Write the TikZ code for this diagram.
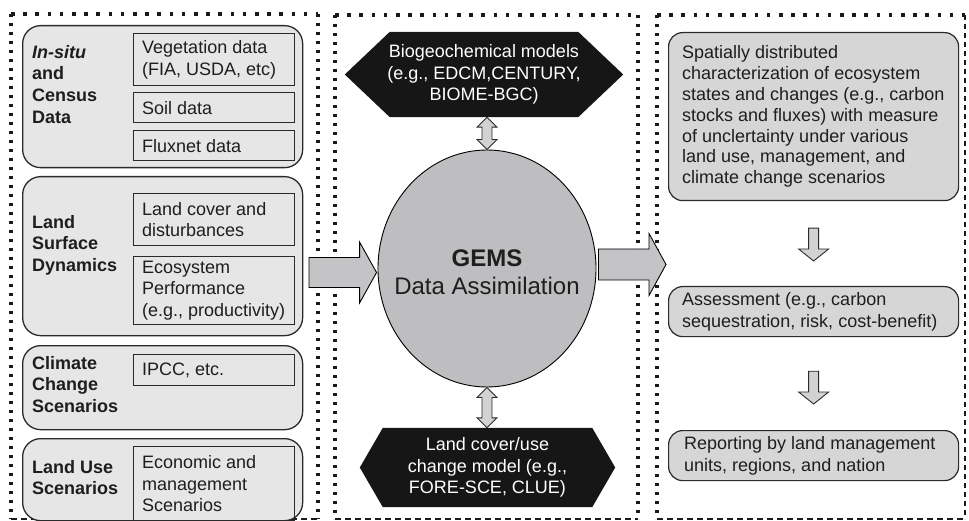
\documentclass[tikz,border=0pt]{standalone}
\usepackage{fontspec}
\setmainfont{Liberation Sans}
\usetikzlibrary{shapes.geometric,calc,backgrounds}
\definecolor{lbox}{HTML}{E6E6E6}
\definecolor{rbox}{HTML}{D6D6D6}
\definecolor{circ}{HTML}{BEBEC1}
\definecolor{arr}{HTML}{C4C4C6}
\definecolor{arrfill}{HTML}{D2D2D2}
\definecolor{edge}{HTML}{2A2A2A}
\definecolor{dotc}{HTML}{1A1A1A}
\definecolor{txtc}{HTML}{1E1E1E}
\definecolor{hexc}{HTML}{161616}
\newcommand\drawbox[6]{\node[#1, anchor=north west, minimum width={#5-#3}, minimum height={#6-#4}] (#2) at (#3,#4) {};}
\newcommand\harrow[6]{\path[#6] let \p1=(#1), \p2=(#2) in
 (\x1,\y2+#3) -- (\x2-#5,\y2+#3) -- (\x2-#5,\y2+#4) -- (\x2,\y2) -- (\x2-#5,\y2-#4) -- (\x2-#5,\y2-#3) -- (\x1,\y2-#3) -- cycle;}
\newcommand\vdarrow[2]{\path[hollow] let \p1=(#1), \p2=(#2) in
 (\x1,\y1) -- (\x1+10pt,\y1-10pt) -- (\x1+5pt,\y1-10pt) -- (\x1+5pt,\y2+10pt) -- (\x1+10pt,\y2+10pt) -- (\x1,\y2) -- (\x1-10pt,\y2+10pt) -- (\x1-5pt,\y2+10pt) -- (\x1-5pt,\y1-10pt) -- (\x1-10pt,\y1-10pt) -- cycle;}
\newcommand\vsarrow[2]{\path[hollow] let \p1=(#1), \p2=(#2) in
 (\x1-5pt,\y1) -- (\x1+5pt,\y1) -- (\x1+5pt,\y2+12pt) -- (\x1+15pt,\y2+12pt) -- (\x1,\y2) -- (\x1-15pt,\y2+12pt) -- (\x1-5pt,\y2+12pt) -- cycle;}
\begin{document}
\begin{tikzpicture}[x=1pt,y=-1pt,
  txt/.style={font=\fontsize{18}{21.5}\selectfont, text=txtc, inner sep=0pt, align=left},
  grp/.style={text=txtc, font=\fontsize{18}{21.7}\selectfont\bfseries, inner sep=0pt, align=left, anchor=north west},
  group/.style={rectangle, draw=edge, line width=1.3pt, fill=lbox, rounded corners=18pt, inner sep=0pt},
  inbox/.style={rectangle, draw=edge, line width=1.2pt, inner sep=0pt},
  rbx/.style={rectangle, draw=edge, line width=1.2pt, fill=rbox, rounded corners=14pt, inner sep=0pt},
  hollow/.style={fill=arrfill, draw=edge, line width=0.9pt},
  bigarr/.style={fill=arr, draw=black, line width=0.9pt},
  hdots/.style={draw=dotc, line width=3.6pt, dash pattern=on 3.6pt off 8.6pt},
  vdots/.style={draw=dotc, line width=3.6pt, dash pattern=on 3.4pt off 5.6pt},
  bdash/.style={draw=dotc, line width=2.4pt, dash pattern=on 6pt off 4pt},
  rdash/.style={draw=dotc, line width=1.6pt, dash pattern=on 5pt off 4pt}]
\useasboundingbox (0,0) rectangle (969,521);
% panels
\draw[hdots] (11,14) -- (318,14);
\draw[vdots] (11,14) -- (11,519);
\draw[vdots] (318,14) -- (318,519);
\draw[bdash] (11,519) -- (318,519);
\draw[hdots] (335,15) -- (638,15);
\draw[vdots] (335,15) -- (335,519);
\draw[vdots] (638,15) -- (638,519);
\draw[bdash] (335,519) -- (638,519);
\draw[hdots] (657,15) -- (965,15);
\draw[vdots] (657,15) -- (657,519);
\draw[rdash] (965,15) -- (965,519);
\draw[bdash] (657,519) -- (965,519);
% left groups
\drawbox{group}{g1}{22}{25}{302}{167}
\drawbox{group}{g2}{22}{176}{302}{335}
\drawbox{group}{g3}{22}{345}{302}{429}
\drawbox{group}{g4}{22}{438}{302}{520}
\node[grp] (l1) at (32,45) {\textit{In-situ}\\and\\Census\\Data};
\node[grp] (l2) at (32,215) {Land\\Surface\\Dynamics};
\node[grp] (l3) at (32,356) {Climate\\Change\\Scenarios};
\node[grp] (l4) at (32,460) {Land Use\\Scenarios};
\drawbox{inbox}{veg}{133}{33}{294}{85}
\drawbox{inbox}{soil}{133}{92}{294}{122}
\drawbox{inbox}{flux}{133}{130}{294}{160}
\drawbox{inbox}{lcd}{133}{193}{294}{245}
\drawbox{inbox}{eco}{133}{256}{294}{324}
\drawbox{inbox}{ipcc}{133}{354}{294}{385}
\drawbox{inbox}{econ}{133}{446}{294}{520}
\node[txt, anchor=west] (tveg) at ($(veg.west)+(9,0)$) {Vegetation data\\(FIA, USDA, etc)};
\node[txt, anchor=west] (tsoil) at ($(soil.west)+(9,0)$) {Soil data};
\node[txt, anchor=west] (tflux) at ($(flux.west)+(9,0)$) {Fluxnet data};
\node[txt, anchor=west] (tlcd) at ($(lcd.west)+(9,0)$) {Land cover and\\disturbances};
\node[txt, anchor=west] (teco) at ($(eco.west)+(9,0)$) {Ecosystem\\Performance\\(e.g., productivity)};
\node[txt, anchor=west] (tipcc) at ($(ipcc.west)+(9,0)$) {IPCC, etc.};
\node[txt, anchor=west] (tecon) at ($(econ.west)+(9,0)$) {Economic and\\management\\Scenarios};
% middle
\node[txt, text=white, align=center, minimum width=278, minimum height=85] (bgc) at (484,74.5) {Biogeochemical models\\(e.g., EDCM,CENTURY,\\BIOME-BGC)};
\node[txt, text=white, align=center, minimum width=255, minimum height=79] (lcu) at (487.5,467.5) {Land cover/use\\change model (e.g.,\\FORE-SCE, CLUE)};
\begin{scope}[on background layer]
\fill[hexc] (bgc.west) -- ([xshift=45pt]bgc.north west) -- ([xshift=-45pt]bgc.north east) -- (bgc.east) -- ([xshift=-45pt]bgc.south east) -- ([xshift=45pt]bgc.south west) -- cycle;
\fill[hexc] (lcu.west) -- ([xshift=23pt]lcu.north west) -- ([xshift=-23pt]lcu.north east) -- (lcu.east) -- ([xshift=-23pt]lcu.south east) -- ([xshift=23pt]lcu.south west) -- cycle;
\end{scope}
\node[ellipse, draw=black, line width=0.9pt, fill=circ, minimum width=218, minimum height=237, inner sep=0pt] (gems) at (487,268.5) {};
\node[txt, align=center, font=\fontsize{24}{28}\selectfont] (gemst) at (487,272) {\textbf{GEMS}\\Data Assimilation};
\vdarrow{gems.north |- bgc.south}{gems.north}
\vdarrow{gems.south}{gems.south |- lcu.north}
% right
\drawbox{rbx}{r1}{668}{32}{958}{200}
\drawbox{rbx}{r2}{668}{286}{958}{336}
\drawbox{rbx}{r3}{668}{430}{958}{480}
\node[txt, anchor=west, font=\fontsize{18}{20.8}\selectfont] (tr1) at ($(r1.west)+(14,0)$) {Spatially distributed\\characterization of ecosystem\\states and changes (e.g., carbon\\stocks and fluxes) with measure\\of unclertainty under various\\land use, management, and\\climate change scenarios};
\node[txt, anchor=west] (tr2) at ($(r2.west)+(14,0)$) {Assessment (e.g., carbon\\sequestration, risk, cost-benefit)};
\node[txt, anchor=west] (tr3) at ($(r3.west)+(16,0)$) {Reporting by land management\\units, regions, and nation};
\vsarrow{$(r1.south)+(0,27)$}{$(r2.north)+(0,-25)$}
\vsarrow{$(r2.south)+(0,34)$}{$(r3.north)+(0,-26)$}
% big arrows
\coordinate (inL) at (309,272.5);
\coordinate (outR) at (666,264.5);
\harrow{inL}{$(gems.west)+(-1,4)$}{15pt}{30.5pt}{17pt}{bigarr}
\harrow{$(gems.east)+(2,-4)$}{outR}{15.5pt}{31pt}{17pt}{bigarr}
\end{tikzpicture}
\end{document}
